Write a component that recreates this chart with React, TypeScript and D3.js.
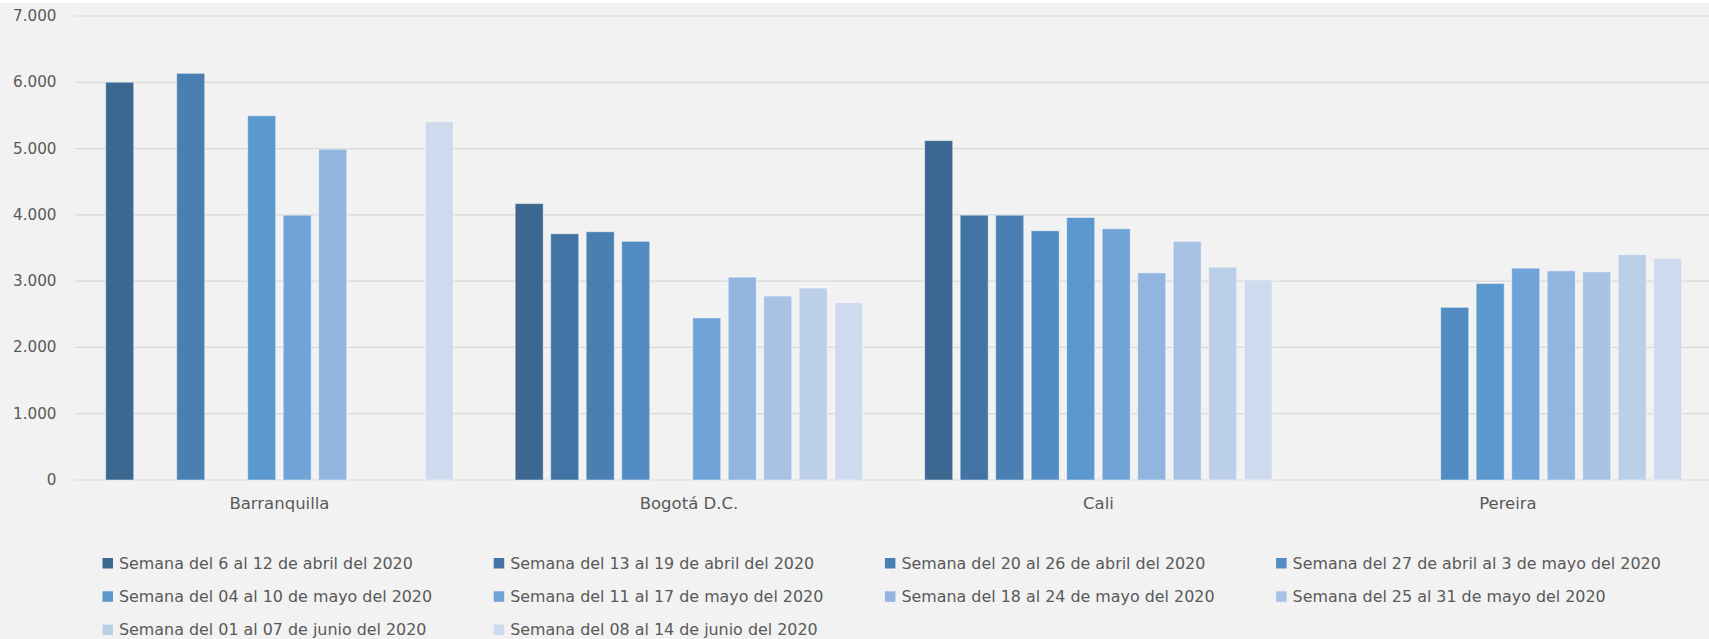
import React from "react";
import * as d3 from "d3";

const categories = ["Barranquilla", "Bogotá D.C.", "Cali", "Pereira"];
const seriesNames = [
  "Semana del 6 al 12 de abril del 2020",
  "Semana del 13 al 19 de abril del 2020",
  "Semana del 20 al 26 de abril del 2020",
  "Semana del 27 de abril al 3 de mayo del 2020",
  "Semana del 04 al 10 de mayo del 2020",
  "Semana del 11 al 17 de mayo del 2020",
  "Semana del 18 al 24 de mayo del 2020",
  "Semana del 25 al 31 de mayo del 2020",
  "Semana del 01 al 07 de junio del 2020",
  "Semana del 08 al 14 de junio del 2020",
];
const seriesColors = [
  "#3B6790", "#4174A4", "#4A7FB2", "#538CC2", "#5B98CE",
  "#70A3D7", "#91B5DF", "#A8C2E5", "#BCCFE9", "#CEDBEE",
];
// values per category, one per series (null = no bar)
const barranquilla = [6000, null, 6135, null, 5495, 3995, 4990, null, null, 5405];
const bogota = [4170, 3715, 3745, 3600, null, 2445, 3060, 2775, 2895, 2675];
const cali = [5120, 3995, 3995, 3760, 3960, 3790, 3125, 3600, 3210, 3020];
const pereira = [null, null, null, 2605, 2965, 3195, 3155, 3140, 3400, 3345];
const valuesByCategory = [barranquilla, bogota, cali, pereira];
const yTicks = [0, 1000, 2000, 3000, 4000, 5000, 6000, 7000];

const W = 1709;
const H = 639;
const FONT = "'DejaVu Sans', Verdana, sans-serif";
const TEXT = "#595959";

export default function App() {
  const x0 = d3.scaleBand<string>().domain(categories).range([74.7, 1712.7]).padding(0);
  const x1 = d3
    .scaleBand<number>()
    .domain(d3.range(seriesNames.length))
    .range([0, x0.bandwidth()])
    .paddingInner(0.211)
    .paddingOuter(0.873);
  const y = d3.scaleLinear().domain([0, 7000]).range([480, 16]);
  const fmt = (v: number) => d3.format(",")(v).replace(/,/g, ".");

  const legendCols = 4;
  const legendX0 = 102.5;
  const legendColW = 391.2;
  const legendY0 = 563;
  const legendRowH = 33.3;

  return (
    <svg
      width={W}
      height={H}
      style={{ position: "absolute", left: 0, top: 0, display: "block" }}
    >
      <rect x={0} y={0} width={W} height={H} fill="#ffffff" />
      <rect x={0} y={3} width={W} height={H - 3} fill="#F2F2F2" />
      {yTicks.map((t) => (
        <g key={t}>
          <line
            x1={74.7}
            x2={W}
            y1={y(t)}
            y2={y(t)}
            stroke="#D9D9D9"
            strokeWidth={1.2}
          />
          <text
            x={56.5}
            y={y(t)}
            textAnchor="end"
            dominantBaseline="central"
            fontFamily={FONT}
            fontSize={15.2}
            fill={TEXT}
          >
            {fmt(t)}
          </text>
        </g>
      ))}
      {categories.map((c, ci) => (
        <g key={c} transform={`translate(${x0(c)},0)`}>
          {valuesByCategory[ci].map((v, si) =>
            v == null ? null : (
              <rect
                key={si}
                x={x1(si)}
                y={y(v)}
                width={x1.bandwidth()}
                height={y(0) - y(v)}
                fill={seriesColors[si]}
                stroke="#ffffff"
                strokeOpacity={0.45}
                strokeWidth={1}
              />
            )
          )}
          <text
            x={x0.bandwidth() / 2}
            y={509}
            textAnchor="middle"
            fontFamily={FONT}
            fontSize={16.5}
            fill={TEXT}
          >
            {c}
          </text>
        </g>
      ))}
      {seriesNames.map((s, i) => {
        const col = i % legendCols;
        const row = Math.floor(i / legendCols);
        const lx = legendX0 + col * legendColW;
        const ly = legendY0 + row * legendRowH;
        return (
          <g key={s} transform={`translate(${lx},${ly})`}>
            <rect x={0} y={-5} width={10.5} height={10.5} fill={seriesColors[i]} />
            <text
              x={16.5}
              y={0}
              dominantBaseline="central"
              fontFamily={FONT}
              fontSize={15.9}
              fill={TEXT}
            >
              {s}
            </text>
          </g>
        );
      })}
    </svg>
  );
}
